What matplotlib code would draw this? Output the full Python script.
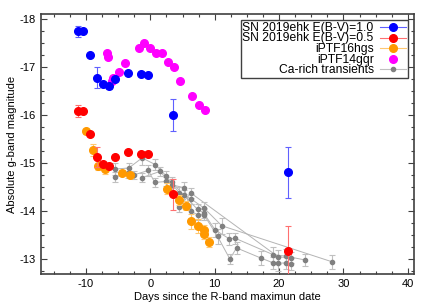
import matplotlib
matplotlib.use("Agg")
from matplotlib import pyplot as plt
from matplotlib.lines import Line2D
from matplotlib.ticker import AutoMinorLocator

plt.rcParams['font.family'] = ['Liberation Sans', 'DejaVu Sans']
plt.rcParams['font.size'] = 8

# SN 2019ehk, two extinction assumptions (same epochs)
ehk_t = [-11.27, -10.43, -9.35, -8.37, -7.39, -6.36, -5.43, -3.41, -1.44, -0.31, 3.46, 21.45]
ehk10_m = [-17.74, -17.74, -17.25, -16.78, -16.64, -16.60, -16.76, -16.88, -16.85, -16.84, -16.0, -14.81]
ehk05_m = [-16.09, -16.09, -15.61, -15.13, -14.99, -14.95, -15.12, -15.23, -15.19, -15.19, -14.35, -13.17]
ehk_err = [0.12, 0.02, 0.02, 0.21, 0.02, 0.05, 0.02, 0.02, 0.02, 0.02, 0.33, 0.53]

# iPTF16hgs
hgs_t = [-10.08, -8.94, -8.16, -6.98, -4.45, -3.15, 2.58, 4.50, 5.53, 6.25, 7.39, 8.32, 8.32, 9.15]
hgs_m = [-15.66, -15.27, -14.95, -14.88, -14.80, -14.76, -14.47, -14.24, -14.12, -13.79, -13.70, -13.61, -13.52, -13.36]
hgs_err = [0.05, 0.12, 0.10, 0.10, 0.05, 0.05, 0.12, 0.10, 0.10, 0.15, 0.15, 0.10, 0.10, 0.10]

# iPTF14gqr
gqr_t = [-6.77, -6.51, -5.95, -5.84, -4.81, -3.88, -1.81, -1.04, -0.10, 0.88, 1.86, 2.79, 3.67, 4.54, 6.40, 7.49, 8.48]
gqr_m = [-17.30, -17.20, -16.70, -16.78, -16.90, -17.09, -17.40, -17.50, -17.40, -17.30, -17.30, -17.10, -17.00, -16.70, -16.40, -16.20, -16.11]

# Ca-rich transients (individual objects)
ca1_t = [-5.43, -3.36, -1.29, 0.78, 2.43, 4.50, 6.30, 8.32, 11.10, 28.26]
ca1_m = [-14.88, -14.90, -15.11, -14.97, -14.74, -14.38, -14.26, -14.07, -13.70, -12.95]
ca1_e = [0.12, 0.10, 0.15, 0.12, 0.10, 0.12, 0.10, 0.12, 0.17, 0.15]
ca2_t = [-5.43, -3.41, -2.48, -0.31, 0.67, 2.43, 3.36, 5.27, 7.33, 8.26, 10.08, 12.25, 13.18, 19.07, 21.0, 24.0]
ca2_m = [-14.71, -14.80, -14.76, -14.85, -14.60, -14.62, -14.60, -14.33, -14.04, -13.97, -13.61, -13.43, -13.44, -13.10, -13.07, -12.99]
ca2_e = [0.10, 0.10, 0.08, 0.12, 0.10, 0.10, 0.12, 0.12, 0.12, 0.10, 0.15, 0.12, 0.12, 0.15, 0.15, 0.12]
ca3_t = [-1.29, 1.50, 3.36, 5.27, 6.30, 7.33, 8.32, 10.44, 12.35, 13.39, 17.16, 19.07, 19.9, 21.0, 21.9]
ca3_m = [-14.70, -14.83, -14.55, -14.49, -14.00, -13.93, -13.93, -13.48, -13.01, -13.24, -13.03, -12.93, -12.92, -12.93, -12.90]
ca3_e = [0.10, 0.10, 0.12, 0.12, 0.15, 0.12, 0.12, 0.15, 0.10, 0.12, 0.15, 0.12, 0.15, 0.12, 0.12]
ca4_t = [4.50, 6.30, 19.9, 21.9]
ca4_m = [-14.10, -14.38, -13.05, -13.04]
ca4_e = [0.12, 0.10, 0.15, 0.12]

fig = plt.figure(figsize=(4.36, 3.05), dpi=100)
ax = fig.add_axes([0.094, 0.102, 0.856, 0.852])

for t, m, e in [(ca1_t, ca1_m, ca1_e), (ca2_t, ca2_m, ca2_e),
                (ca3_t, ca3_m, ca3_e), (ca4_t, ca4_m, ca4_e)]:
    ax.plot(t, m, color='#b4b4b4', lw=0.7, zorder=1)
    ax.errorbar(t, m, yerr=e, fmt='o', ms=3, color='#808080', ecolor='#c0c0c0',
                elinewidth=0.8, capsize=2, capthick=0.8, zorder=2)

ax.errorbar(hgs_t, hgs_m, yerr=hgs_err, fmt='o', ms=5.5, color='#ff9900',
            ecolor='#ffc870', elinewidth=0.8, capsize=2, capthick=0.8, zorder=3)
ax.plot(gqr_t, gqr_m, 'o', ms=5.5, color='#ff00ff', zorder=3)
ax.errorbar(ehk_t, ehk05_m, yerr=ehk_err, fmt='o', ms=5.5, color='#ff0000',
            ecolor='#ff7070', elinewidth=0.8, capsize=2, capthick=0.8, zorder=4)
ax.errorbar(ehk_t, ehk10_m, yerr=ehk_err, fmt='o', ms=5.5, color='#0000ff',
            ecolor='#6060ff', elinewidth=0.8, capsize=2, capthick=0.8, zorder=5)

ax.set_xlim(-17, 41)
ax.set_ylim(-12.7, -18.1)
ax.set_xticks([-10, 0, 10, 20, 30, 40])
ax.set_yticks([-18, -17, -16, -15, -14, -13])
ax.set_yticklabels(['-18', '-17', '-16', '-15', '-14', '-13'])
ax.set_xticklabels(['-10', '0', '10', '20', '30', '40'])
ax.xaxis.set_minor_locator(AutoMinorLocator(4))
ax.yaxis.set_minor_locator(AutoMinorLocator(4))
ax.tick_params(which='both', direction='in', top=True, right=True, color='#404040')
ax.tick_params(which='major', length=4, width=0.8)
ax.tick_params(which='minor', length=2.5, width=0.8)
for s in ax.spines.values():
    s.set_linewidth(1.2)
    s.set_color('#404040')

ax.set_xlabel('Days since the R-band maximun date', labelpad=2)
ax.set_ylabel('Absolute g-band magnitude', labelpad=2)

handles = [
    (Line2D([], [], color='#6060ff', lw=0.8), Line2D([], [], color='#0000ff', marker='o', ms=5.5, ls='')),
    (Line2D([], [], color='#ff7070', lw=0.8), Line2D([], [], color='#ff0000', marker='o', ms=5.5, ls='')),
    (Line2D([], [], color='#ffc870', lw=0.8), Line2D([], [], color='#ff9900', marker='o', ms=5.5, ls='')),
    Line2D([], [], color='#ff00ff', marker='o', ms=5.5, ls=''),
    (Line2D([], [], color='#c0c0c0', lw=0.8), Line2D([], [], color='#808080', marker='o', ms=3, ls='')),
]
labels = ['SN 2019ehk E(B-V)=1.0', 'SN 2019ehk E(B-V)=0.5', 'iPTF16hgs', 'iPTF14gqr', 'Ca-rich transients']
leg = ax.legend(handles, labels, loc='upper right', markerfirst=False, fontsize=8.7,
                frameon=True, fancybox=False, edgecolor='#404040', framealpha=1,
                borderpad=0.15, labelspacing=-0.12, handlelength=2.2, handleheight=0.5,
                handletextpad=0.5, borderaxespad=0.5, numpoints=1)
leg.get_frame().set_linewidth(1.0)
for txt in leg.get_texts():
    txt.set_ha('right')
leg._legend_box.align = 'right'

fig.savefig('out.png', dpi=100)
